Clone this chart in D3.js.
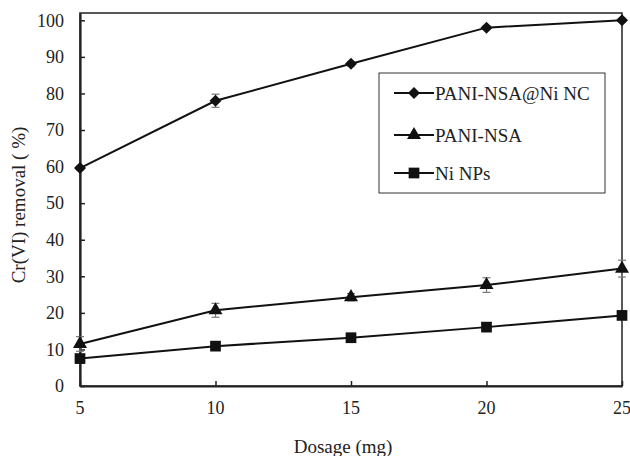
<!DOCTYPE html>
<html>
<head>
<meta charset="utf-8">
<script src="https://cdn.jsdelivr.net/npm/d3@7"></script>
<style>
  body { margin: 0; background: #fff; }
  svg text { font-family: 'Liberation Serif', 'DejaVu Serif', serif; fill: #222; }
</style>
</head>
<body>
<svg id="chart" width="630" height="456"></svg>
<script>
// data
var dosage = [5, 10, 15, 20, 25];
var seriesNames = ["PANI-NSA@Ni NC", "PANI-NSA", "Ni NPs"];
var niNC = [59.6, 78.0, 88.1, 98.0, 100.0];
var niNCErr = [0.6, 1.8, 0.6, 0.5, 0.5];
var pani = [11.5, 20.7, 24.3, 27.6, 32.1];
var paniErr = [2.0, 1.9, 1.0, 2.0, 2.3];
var niNP = [7.5, 10.9, 13.2, 16.1, 19.3];
var niNPErr = [0.5, 0.5, 0.5, 0.5, 0.5];
var yTicks = [0, 10, 20, 30, 40, 50, 60, 70, 80, 90, 100];

var series = [
  { name: seriesNames[0], vals: niNC, err: niNCErr, shape: d3.symbolSquare, size: 72, rot: 45 },
  { name: seriesNames[1], vals: pani, err: paniErr, shape: d3.symbolTriangle, size: 85, rot: 0 },
  { name: seriesNames[2], vals: niNP, err: niNPErr, shape: d3.symbolSquare, size: 115, rot: 0 }
];

var serif = "'Liberation Serif', 'DejaVu Serif', serif";
var svg = d3.select("#chart");
var plotL = 80, plotR = 622, plotT = 13, plotB = 386;

var x = d3.scaleLinear().domain([5, 25]).range([plotL, plotR]);
var y = d3.scaleLinear().domain([0, 102]).range([plotB, plotT]);

// frame
svg.append("rect")
  .attr("x", plotL).attr("y", plotT)
  .attr("width", plotR - plotL).attr("height", plotB - plotT)
  .attr("fill", "none").attr("stroke", "#222").attr("stroke-width", 1.5);

// axes, ticks pointing inward
var yAxis = svg.append("g")
  .attr("transform", "translate(" + plotL + ",0)")
  .call(d3.axisRight(y).tickValues(yTicks).tickSize(5).tickSizeOuter(0).tickFormat(""));
yAxis.select(".domain").attr("stroke", "#222").attr("stroke-width", 2.2);
yAxis.selectAll(".tick line").attr("stroke", "#222").attr("stroke-width", 1.5);

var xAxis = svg.append("g")
  .attr("transform", "translate(0," + plotB + ")")
  .call(d3.axisTop(x).tickValues(dosage).tickSize(5).tickSizeOuter(0).tickFormat(""));
xAxis.select(".domain").attr("stroke", "#222").attr("stroke-width", 2.2);
xAxis.selectAll(".tick line").attr("stroke", "#222").attr("stroke-width", 1.5);

// tick labels
svg.append("g").selectAll("text")
  .data(yTicks).enter().append("text")
  .attr("x", 64).attr("y", function(d) { return y(d); })
  .attr("dy", "0.35em")
  .attr("text-anchor", "end")
  .attr("font-family", serif)
  .style("font-size", "18px")
  .text(function(d) { return d; });

svg.append("g").selectAll("text")
  .data(dosage).enter().append("text")
  .attr("x", function(d) { return x(d); }).attr("y", 414)
  .attr("text-anchor", "middle")
  .attr("font-family", serif)
  .style("font-size", "18px")
  .text(function(d) { return d; });

// axis titles
svg.append("text")
  .attr("transform", "translate(25,205) rotate(-90)")
  .attr("text-anchor", "middle")
  .attr("font-family", serif)
  .style("font-size", "19px")
  .text("Cr(VI) removal ( %)");

svg.append("text")
  .attr("x", 343).attr("y", 453)
  .attr("text-anchor", "middle")
  .attr("font-family", serif)
  .style("font-size", "19px")
  .text("Dosage (mg)");

var line = d3.line()
  .x(function(d, i) { return x(dosage[i]); })
  .y(function(d) { return y(d); });

series.forEach(function(s) {
  var g = svg.append("g");
  g.append("path")
    .attr("d", line(s.vals))
    .attr("fill", "none").attr("stroke", "#111").attr("stroke-width", 2);

  // error bars
  var eb = g.selectAll(".eb").data(s.vals).enter().append("g").attr("class", "eb");
  eb.append("line")
    .attr("x1", function(d, i) { return x(dosage[i]); })
    .attr("x2", function(d, i) { return x(dosage[i]); })
    .attr("y1", function(d, i) { return y(d - s.err[i]); })
    .attr("y2", function(d, i) { return y(d + s.err[i]); })
    .attr("stroke", "#777").attr("stroke-width", 1.2);
  [-1, 1].forEach(function(sign) {
    eb.append("line")
      .attr("x1", function(d, i) { return x(dosage[i]) - 4; })
      .attr("x2", function(d, i) { return x(dosage[i]) + 4; })
      .attr("y1", function(d, i) { return y(d + sign * s.err[i]); })
      .attr("y2", function(d, i) { return y(d + sign * s.err[i]); })
      .attr("stroke", "#777").attr("stroke-width", 1.2);
  });

  g.selectAll(".pt").data(s.vals).enter().append("path")
    .attr("class", "pt")
    .attr("d", d3.symbol().type(s.shape).size(s.size))
    .attr("transform", function(d, i) {
      return "translate(" + x(dosage[i]) + "," + y(d) + ") rotate(" + s.rot + ")";
    })
    .attr("fill", "#111");
});

// legend
var lg = svg.append("g");
lg.append("rect")
  .attr("x", 379).attr("y", 73).attr("width", 226).attr("height", 120)
  .attr("fill", "#fff").attr("stroke", "#333").attr("stroke-width", 1);

var legY = [93, 135, 173];
series.forEach(function(s, i) {
  lg.append("line")
    .attr("x1", 394).attr("x2", 434)
    .attr("y1", legY[i]).attr("y2", legY[i])
    .attr("stroke", "#111").attr("stroke-width", 2);
  lg.append("path")
    .attr("d", d3.symbol().type(s.shape).size(s.size))
    .attr("transform", "translate(414," + legY[i] + ") rotate(" + s.rot + ")")
    .attr("fill", "#111");
  lg.append("text")
    .attr("x", 435).attr("y", legY[i])
    .attr("dy", "0.35em")
    .attr("font-family", serif)
    .style("font-size", "19px")
    .text(s.name);
});
</script>
</body>
</html>
